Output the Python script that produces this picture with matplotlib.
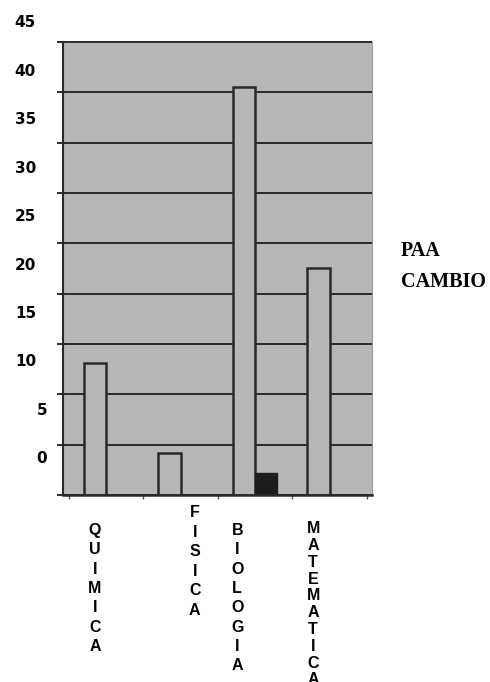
import matplotlib
matplotlib.use("Agg")
import matplotlib.pyplot as plt
import numpy as np

# data (in grid units, 5 per grid line)
materias = ["QUIMICA", "FISICA", "BIOLOGIA", "MATEMATICA"]
paa = [13.1, 4.2, 40.5, 22.5]
cambio = [0.0, 0.0, 2.2, 0.0]
series_names = ["PAA", "CAMBIO"]
y_labels = [0, 5, 10, 15, 20, 25, 30, 35, 40, 45]

# where the hand-placed subject labels sit (data x, axes y, line pitch)
lbl_x = [-0.15, 1.19, 1.76, 2.78]
lbl_y = [-0.058, -0.021, -0.058, -0.054]
lbl_spacing = [1.36, 1.38, 1.36, 1.15]

GREY = "#b7b7b7"
INK = "#2a2a2a"

fig = plt.figure(figsize=(4.9, 6.82), dpi=100)
ax = fig.add_axes([63 / 490, 187 / 682, 309 / 490, 483.4 / 682])

x = np.arange(len(materias))
w = 0.3
ax.axhspan(0, 45, color=GREY, zorder=0)
b1 = ax.bar(x - w / 2, paa, w, color=GREY, edgecolor=INK, linewidth=1.8, zorder=2)
b2 = ax.bar(x + w / 2, cambio, w, color="#1c1c1c", edgecolor="#1c1c1c", linewidth=1, zorder=2)

ax.set_xlim(-0.58, 3.57)
ax.set_ylim(0, 48)
ax.set_yticks(y_labels)
ax.set_yticklabels([])
ax.tick_params(axis="y", direction="out", length=4.3, width=1.4, color=INK)
ax.grid(axis="y", color=INK, linewidth=1.4)
ax.set_axisbelow(True)

ax.set_xticks([])
ax.set_xticks(np.arange(-0.5, 4, 1), minor=True)
ax.tick_params(axis="x", which="minor", direction="out", length=3, width=1, color="#555555")

ax.spines["top"].set_visible(False)
ax.spines["left"].set_bounds(0, 45)
ax.spines["left"].set_linewidth(1.5)
ax.spines["left"].set_color(INK)
ax.spines["bottom"].set_linewidth(1.8)
ax.spines["bottom"].set_color(INK)
ax.spines["right"].set_bounds(0, 45)
ax.spines["right"].set_linewidth(0.8)
ax.spines["right"].set_color("#9a9a9a")
ax.set_facecolor("none")


# the printed scale numbers drift off the grid lines; map grid units -> printed value
def to_printed(v):
    return (10.07 * np.asarray(v) - 37.6) / 9.69


def to_grid(v):
    return (9.69 * np.asarray(v) + 37.6) / 10.07


for ticks, pad in [(y_labels[2:], 19.4), (y_labels[:2], 11.5)]:
    sec = ax.secondary_yaxis("left", functions=(to_printed, to_grid))
    sec.set_yticks(ticks)
    sec.set_yticklabels([str(t) for t in ticks])
    sec.tick_params(length=0, pad=pad)
    sec.spines["left"].set_visible(False)
    for t in sec.get_yticklabels():
        t.set_fontfamily("DejaVu Sans")
        t.set_fontweight("bold")
        t.set_fontsize(11)

for name, xp, yp, ls in zip(materias, lbl_x, lbl_y, lbl_spacing):
    ax.text(xp, yp, "\n".join(name), transform=ax.get_xaxis_transform(),
            ha="center", va="top", fontsize=11.5, fontweight="bold",
            family="Liberation Sans", linespacing=ls, multialignment="center")

leg = ax.legend([b1, b2], series_names, loc="upper left",
                bbox_to_anchor=(401 / 490, 1 - 241 / 682), bbox_transform=fig.transFigure,
                frameon=False, handlelength=0, handletextpad=0, borderpad=0,
                borderaxespad=0, labelspacing=0.56,
                prop={"family": "Liberation Serif", "weight": "bold", "size": 14.5})
for h in leg.legend_handles:
    h.set_visible(False)

fig.savefig("out.png", dpi=100)
